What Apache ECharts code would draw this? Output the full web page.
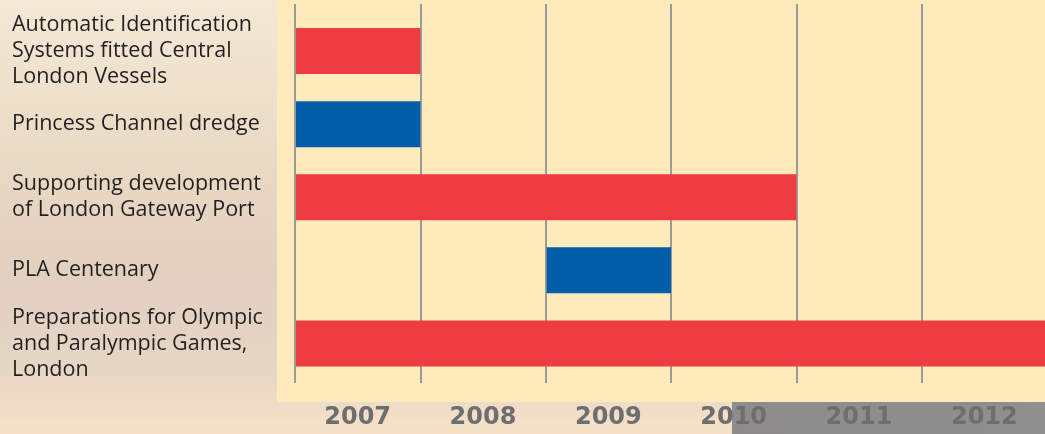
<!DOCTYPE html>
<html>
<head>
<meta charset="utf-8">
<script src="https://cdn.jsdelivr.net/npm/echarts@6/dist/echarts.min.js"></script>
<style>
html, body { margin: 0; padding: 0; overflow: hidden; }
body {
  width: 1045px; height: 434px;
  background:
    linear-gradient(to right, rgba(0,0,0,0) 0, rgba(0,0,0,0) 732px, #8e8c8d 732px, #8f8f8f 1045px) 0 402px / 1045px 32px no-repeat,
    linear-gradient(to bottom, #f4e8d6 0%, #efe1cc 20%, #e6d6c2 45%, #e2d0c0 65%, #e6d6c4 85%, #f7e2c9 100%);
}
#main { width: 1047px; height: 434px; }
</style>
</head>
<body>
<div id="main"></div>
<script>
// gantt: projects by year
var tasks = [
  'Automatic Identification\nSystems fitted Central\nLondon Vessels',
  'Princess Channel dredge',
  'Supporting development\nof London Gateway Port',
  'PLA Centenary',
  'Preparations for Olympic\nand Paralympic Games,\nLondon'
];
var startYear = [2007, 2007, 2007, 2009, 2007];
var endYear = [2008, 2008, 2011, 2010, 2013];
var barColor = ['#ef3b42', '#005ea9', '#ef3b42', '#005ea9', '#ef3b42'];
var years = ['2007', '2008', '2009', '2010', '2011', '2012'];

var data = [];
for (var i = 0; i < tasks.length; i++) {
  data.push({ value: [i, startYear[i], endYear[i]], itemStyle: { color: barColor[i] } });
}

var myChart = echarts.init(document.getElementById('main'));

function renderItem(params, api) {
  var row = api.value(0);
  var p1 = api.coord([api.value(1), row]);
  var p2 = api.coord([api.value(2), row]);
  var h = 46;
  return {
    type: 'rect',
    shape: { x: p1[0] + 1, y: p1[1] - h / 2, width: p2[0] - p1[0] - 1, height: h },
    style: api.style()
  };
}

var option = {
  animation: false,
  graphic: [{
    type: 'rect', z: -10, silent: true,
    shape: { x: 277, y: 0, width: 780, height: 402 },
    style: { fill: '#feebbc' }
  }],
  grid: [
    { left: 295, right: 0, top: 4, bottom: 51 },
    { left: 295, right: 0, top: 14.5, bottom: 54 }
  ],
  xAxis: [{
    gridIndex: 0, type: 'value', min: 2007, max: 2013, interval: 1,
    axisLine: { show: false }, axisTick: { show: false }, axisLabel: { show: false },
    splitLine: { show: true, showMinLine: true, lineStyle: { color: '#9b9b9b', width: 2 } }
  }, {
    gridIndex: 0, type: 'category', data: years, position: 'bottom',
    axisLine: { show: false }, axisTick: { show: false },
    axisLabel: { margin: 23, color: '#6d6e70', fontSize: 24, fontWeight: 'bold', fontFamily: 'DejaVu Sans' }
  }, {
    gridIndex: 1, type: 'value', min: 2007, max: 2013, interval: 1, show: false
  }],
  yAxis: [{
    gridIndex: 0, type: 'value', show: false
  }, {
    gridIndex: 1, type: 'category', data: tasks, inverse: true,
    axisLine: { show: false }, axisTick: { show: false }, splitLine: { show: false },
    axisLabel: {
      margin: 283, align: 'left', color: '#231f20', fontSize: 21.5, lineHeight: 26,
      fontFamily: 'Open Sans'
    }
  }],
  series: [{
    type: 'custom',
    xAxisIndex: 2,
    yAxisIndex: 1,
    renderItem: renderItem,
    encode: { x: [1, 2], y: 0 },
    data: data
  }]
};
myChart.setOption(option);
</script>
</body>
</html>
